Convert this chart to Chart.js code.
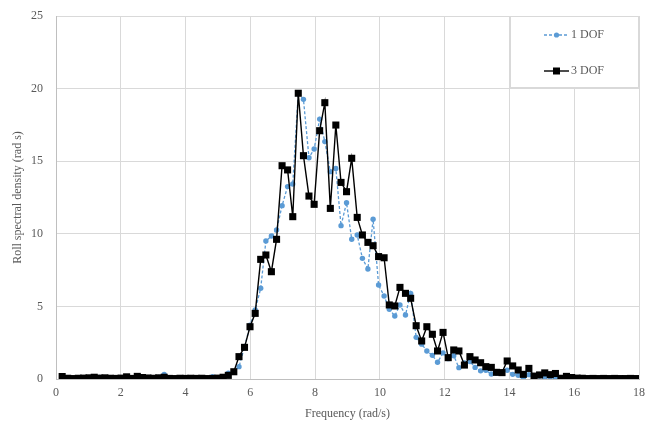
<!DOCTYPE html>
<html><head><meta charset="utf-8">
<script src="https://cdn.jsdelivr.net/npm/chart.js@4/dist/chart.umd.min.js"></script>
<style>html,body{margin:0;padding:0;background:#fff}</style>
</head><body>
<canvas id="c" width="662" height="421"></canvas>
<script>
// Frequency (rad/s)
const frequency = [0.19,0.36,0.52,0.69,0.85,1.02,1.18,1.35,1.51,1.68,1.85,2.01,2.18,2.34,2.51,2.67,2.84,3.01,3.17,3.34,3.50,3.67,3.83,4.00,4.16,4.33,4.50,4.66,4.83,4.99,5.16,5.32,5.49,5.65,5.82,5.99,6.15,6.32,6.48,6.65,6.81,6.98,7.15,7.31,7.48,7.64,7.81,7.97,8.14,8.30,8.47,8.64,8.80,8.97,9.13,9.30,9.46,9.63,9.79,9.96,10.13,10.29,10.46,10.62,10.79,10.95,11.12,11.29,11.45,11.62,11.78,11.95,12.11,12.28,12.44,12.61,12.78,12.94,13.11,13.27,13.44,13.60,13.77,13.93,14.10,14.27,14.43,14.60,14.76,14.93,15.09,15.26,15.42,15.59,15.76,15.92,16.09,16.25,16.42,16.58,16.75,16.91,17.08,17.25,17.41,17.58,17.74,17.91];
// 1 DOF roll spectral density
const dof1 = [0.12,0.03,0.02,0.04,0.05,0.06,0.08,0.1,0.05,0.06,0.04,0.05,0.08,0.0,0.12,0.08,0.05,0.04,0.1,0.32,0.06,0.03,0.04,0.03,0.05,0.04,0.06,0.05,0.15,0.08,0.12,0.4,0.5,0.85,2.2,3.7,4.75,6.25,9.5,9.85,10.26,11.94,13.25,13.43,19.7,19.26,15.24,15.84,17.9,16.35,14.28,14.5,10.56,12.14,9.62,9.92,8.31,7.58,11.0,6.47,5.72,4.8,4.34,5.1,4.41,5.9,2.87,2.4,1.93,1.63,1.15,1.8,1.4,1.6,0.78,1.1,1.2,0.8,0.56,0.6,0.34,0.4,0.4,0.6,0.32,0.25,0.05,0.3,0.15,0.2,0.1,0.15,0.1,0.08,0.1,0.08,0.06,0.08,0.05,0.04,0.04,0.03,0.04,0.03,0.04,0.03,0.04,0.03];
// 3 DOF roll spectral density
const dof3 = [0.17,0.05,0.03,0.05,0.06,0.08,0.12,0.06,0.08,0.05,0.04,0.06,0.15,0.04,0.18,0.1,0.07,0.05,0.08,0.12,0.04,0.03,0.05,0.04,0.05,0.04,0.05,0.03,0.04,0.06,0.12,0.25,0.5,1.54,2.18,3.6,4.52,8.24,8.54,7.39,9.62,14.69,14.4,11.18,19.68,15.38,12.6,12.03,17.1,19.03,11.75,17.49,13.54,12.9,15.2,11.13,9.92,9.41,9.18,8.43,8.35,5.1,5.03,6.31,5.9,5.56,3.67,2.62,3.6,3.08,1.93,3.21,1.47,2.0,1.93,0.96,1.54,1.31,1.12,0.85,0.8,0.46,0.44,1.24,0.9,0.62,0.32,0.73,0.2,0.28,0.42,0.3,0.38,0.05,0.18,0.1,0.06,0.05,0.03,0.04,0.03,0.04,0.03,0.04,0.03,0.03,0.04,0.03];
const seriesLabels = ['1 DOF', '3 DOF'];
const xTickValues = [0,2,4,6,8,10,12,14,16,18];
const yTickValues = [0,5,10,15,20,25];
const xTitle = 'Frequency (rad/s)';
const yTitle = 'Roll spectral density (rad s)';

const FONT = "'Liberation Serif','Times New Roman',serif";
const TEXT = '#595959';
const GRID = '#d9d9d9';
const BLUE = '#5b9bd5';

function pts(ys){ return frequency.map((f,i)=>({x:f,y:ys[i]})); }

const legendBox = {
  id: 'legendBox',
  afterDatasetsDraw(chart){
    const ctx = chart.ctx, a = chart.chartArea;
    const r = a.right, t = a.top, l = r - 129, b = t + 72;
    ctx.save();
    ctx.fillStyle = '#fff';
    ctx.fillRect(l, t, r - l, b - t);
    ctx.strokeStyle = GRID; ctx.lineWidth = 1;
    ctx.strokeRect(l + 0.5, t + 0.5, r - l - 1, b - t - 1);
    const items = [
      {ds: chart.data.datasets[0], y: t + 19},
      {ds: chart.data.datasets[1], y: t + 55}
    ];
    items.forEach(it => {
      const ds = it.ds, x0 = l + 34, x1 = l + 59, xm = (x0 + x1) / 2;
      ctx.beginPath();
      ctx.setLineDash(ds.borderDash || []);
      ctx.strokeStyle = ds.borderColor; ctx.lineWidth = ds.borderWidth;
      ctx.moveTo(x0, it.y); ctx.lineTo(x1, it.y); ctx.stroke();
      ctx.setLineDash([]);
      ctx.fillStyle = ds.pointBackgroundColor;
      if (ds.pointStyle === 'rect') {
        ctx.fillRect(xm - 3.5, it.y - 3.5, 7, 7);
      } else {
        ctx.beginPath(); ctx.arc(xm, it.y, 2.6, 0, Math.PI * 2); ctx.fill();
      }
      ctx.fillStyle = TEXT;
      ctx.font = '12px ' + FONT;
      ctx.textBaseline = 'middle'; ctx.textAlign = 'left';
      ctx.fillText(ds.label, x1 + 2, it.y);
    });
    ctx.restore();
  }
};

new Chart(document.getElementById('c'), {
  type: 'line',
  data: {
    datasets: [
      {label: seriesLabels[0], data: pts(dof1), borderColor: BLUE, backgroundColor: BLUE,
       pointBackgroundColor: BLUE, pointBorderColor: BLUE, borderWidth: 1.3, borderDash: [3,2],
       pointStyle: 'circle', pointRadius: 2.7, pointBorderWidth: 0, tension: 0, order: 2},
      {label: seriesLabels[1], data: pts(dof3), borderColor: '#000', backgroundColor: '#000',
       pointBackgroundColor: '#000', pointBorderColor: '#000', borderWidth: 1.4,
       pointStyle: 'rect', pointRadius: 5, pointBorderWidth: 0, tension: 0, order: 1}
    ]
  },
  options: {
    responsive: false, animation: false,
    layout: {padding: {top: 16, right: 23, left: 0, bottom: 0}},
    plugins: {legend: {display: false}, tooltip: {enabled: false}},
    scales: {
      x: {
        type: 'linear', min: 0, max: 18,
        afterBuildTicks: s => { s.ticks = xTickValues.map(v => ({value: v})); },
        afterFit: s => { s.height = 42; },
        grid: {color: GRID, drawTicks: false},
        border: {color: '#bfbfbf'},
        ticks: {font: {family: FONT, size: 12}, color: TEXT, padding: 7, maxRotation: 0},
        title: {display: true, text: xTitle, font: {family: FONT, size: 12}, color: TEXT, padding: {top: 2, bottom: 0}}
      },
      y: {
        min: 0, max: 25,
        afterBuildTicks: s => { s.ticks = yTickValues.map(v => ({value: v})); },
        afterFit: s => { s.width = 56; s.paddingTop = 0; s.paddingBottom = 0; },
        grid: {color: GRID, drawTicks: false},
        border: {color: '#bfbfbf'},
        ticks: {font: {family: FONT, size: 12}, color: TEXT, padding: 13},
        title: {display: true, text: yTitle, font: {family: FONT, size: 12}, color: TEXT, padding: {top: 11, bottom: 0}}
      }
    }
  },
  plugins: [legendBox]
});
</script>
</body></html>
